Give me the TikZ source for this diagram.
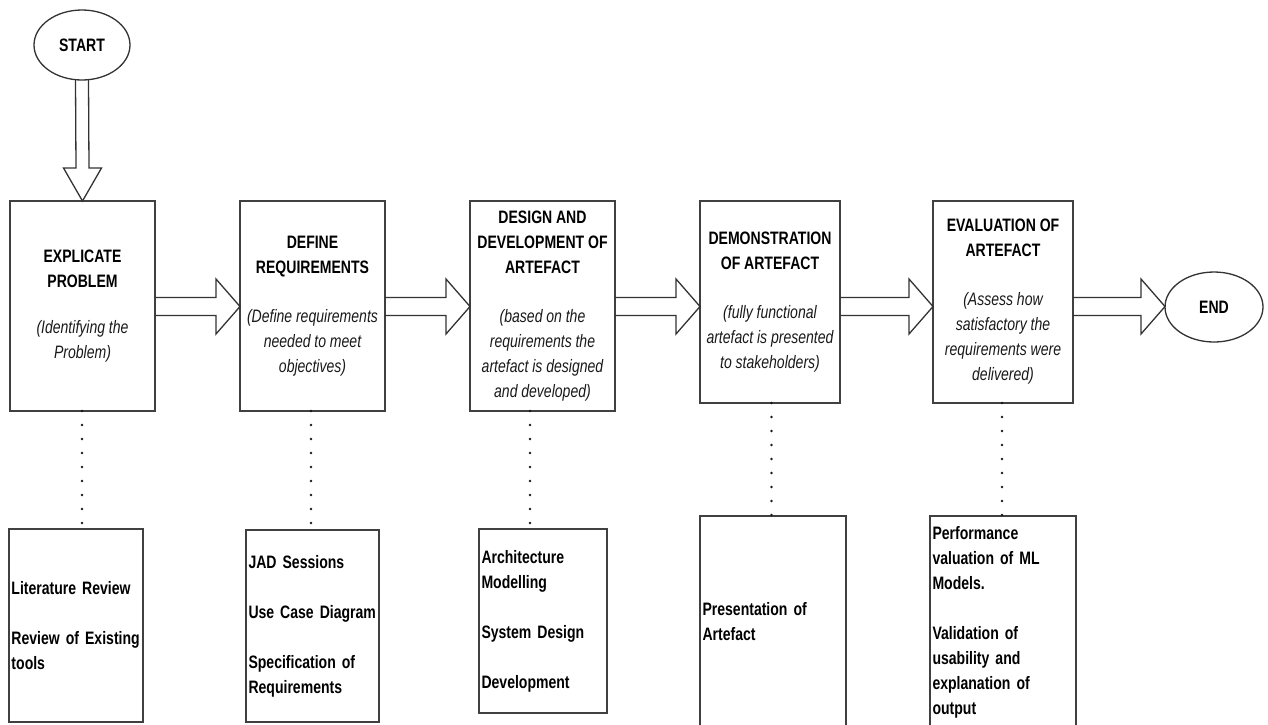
\documentclass[tikz,border=0pt]{standalone}
\usepackage{fontspec}
\setmainfont{Liberation Sans}[FakeStretch=0.78]
\usetikzlibrary{calc,shapes.geometric}
% tighter word spacing to suit the condensed glyphs
\newcommand\narrowtext{\fontsize{18}{25}\selectfont\spaceskip=3.8pt plus 1pt minus 0.5pt\relax}

\begin{document}
\begin{tikzpicture}[x=1pt,y=-1pt,
  every node/.style={font=\narrowtext, inner sep=0pt, outer sep=0pt},
  stage/.style={draw=black!75, line width=1.4pt, rectangle, align=center},
  task/.style={draw=black!75, line width=1.4pt, rectangle, align=left,
               inner xsep=2.5pt, font=\narrowtext\bfseries},
  terminal/.style={draw=black!80, line width=1.3pt, ellipse,
                   font=\narrowtext\bfseries},
  barrow/.style={draw=black!80, line width=1.3pt, line join=miter},
  dots/.style={draw=black!90, line width=2.8pt, line cap=round,
               dash pattern=on 0pt off 14pt}]

\useasboundingbox (0,0) rectangle (1268,724);

% terminals
\node[terminal, minimum width=96pt, minimum height=70pt] (start) at (82,45) {START};
\node[terminal, minimum width=98pt, minimum height=70pt] (fin) at (1214,307) {END};

% process stages
\node[stage, minimum width=145pt, minimum height=210pt] (b1) at (82.5,306)
  {\bfseries EXPLICATE\\\bfseries PROBLEM\\[21pt]\itshape\color{black!90}(Identifying the\\\itshape\color{black!90}Problem)};
\node[stage, minimum width=145pt, minimum height=210pt] (b2) at (312.5,306)
  {\bfseries DEFINE\\\bfseries REQUIREMENTS\\[24pt]\itshape\color{black!90}(Define requirements\\\itshape\color{black!90}needed to meet\\\itshape\color{black!90}objectives)};
\node[stage, minimum width=145pt, minimum height=210pt] (b3) at (542.5,306)
  {\bfseries DESIGN AND\\\bfseries DEVELOPMENT OF\\\bfseries ARTEFACT\\[24pt]\itshape\color{black!90}(based on the\\\itshape\color{black!90}requirements the\\\itshape\color{black!90}artefact is designed\\\itshape\color{black!90}and developed)};
\node[stage, minimum width=140pt, minimum height=202pt] (b4) at (770,302)
  {\bfseries DEMONSTRATION\\\bfseries OF ARTEFACT\\[24pt]\itshape\color{black!90}(fully functional\\\itshape\color{black!90}artefact is presented\\\itshape\color{black!90}to stakeholders)};
\node[stage, minimum width=140pt, minimum height=202pt] (b5) at (1003,302)
  {\bfseries EVALUATION OF\\\bfseries ARTEFACT\\[24pt]\itshape\color{black!90}(Assess how\\\itshape\color{black!90}satisfactory the\\\itshape\color{black!90}requirements were\\\itshape\color{black!90}delivered)};

% activities of each stage
\node[task, minimum width=134pt, minimum height=193pt, text width=129pt] (d1) at (76,625.5)
  {Literature Review\\[25pt]Review of Existing\\tools};
\node[task, minimum width=133pt, minimum height=192pt, text width=128pt] (d2) at (312.5,626)
  {JAD Sessions\\[25pt]Use Case Diagram\\[25pt]Specification of\\Requirements};
\node[task, minimum width=128pt, minimum height=184pt, text width=123pt] (d3) at (543,621)
  {Architecture\\Modelling\\[25pt]System Design\\[25pt]Development};
\node[task, minimum width=146pt, minimum height=212pt, text width=141pt] (d4) at (773,622)
  {Presentation of\\Artefact};
\node[task, minimum width=146pt, minimum height=212pt, text width=141pt] (d5) at (1003,622)
  {Performance\\valuation of ML\\Models.\\[25pt]Validation of\\usability and\\explanation of\\output};

% block arrow from START down to the first stage
\coordinate (vs) at (start.south);
\coordinate (vt) at (b1.north);
\draw[barrow] ($(vs)+(-6.5,0)$) -- ($(vt)+(-6.5,-33)$) -- ($(vt)+(-19,-33)$) -- (vt)
  -- ($(vt)+(19,-33)$) -- ($(vt)+(6.5,-33)$) -- ($(vs)+(6.5,0)$);

% block arrows between stages
\coordinate (axis) at (0,306.5);
\foreach \a/\b in {b1/b2, b2/b3, b3/b4, b4/b5, b5/fin} {
  \coordinate (hs) at (\a.east |- axis);
  \coordinate (ht) at (\b.west |- axis);
  \draw[barrow] ($(hs)+(0,-9)$) -- ($(ht)+(-24,-9)$) -- ($(ht)+(-24,-27.5)$) -- (ht)
    -- ($(ht)+(-24,27.5)$) -- ($(ht)+(-24,9)$) -- ($(hs)+(0,9)$);
}

% dotted links from stages to their activities
\draw[dots] ([xshift=-0.5pt]b1.south) -- ([xshift=-0.5pt]b1.south |- d1.north);
\draw[dots] ([xshift=-1.5pt]b2.south) -- ([xshift=-1.5pt]b2.south |- d2.north);
\draw[dots] ([xshift=-12.5pt]b3.south) -- ([xshift=-12.5pt]b3.south |- d3.north);
\draw[dots] ([xshift=1.5pt]b4.south) -- ([xshift=1.5pt]b4.south |- d4.north);
\draw[dots] ([xshift=-1pt]b5.south) -- ([xshift=-1pt]b5.south |- d5.north);

\end{tikzpicture}
\end{document}
